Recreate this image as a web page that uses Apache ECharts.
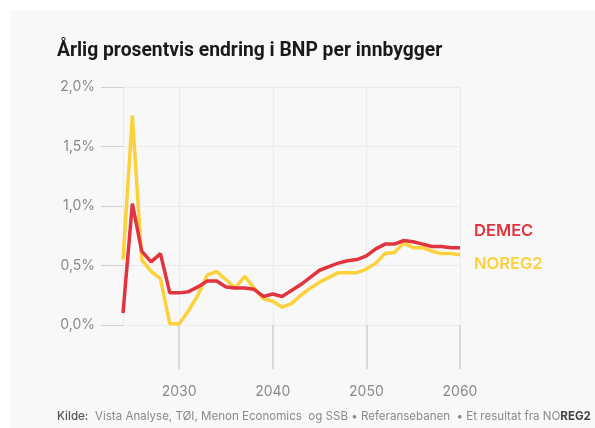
<!DOCTYPE html>
<html>
<head>
<meta charset="utf-8">
<script src="https://cdn.jsdelivr.net/npm/echarts@6/dist/echarts.min.js"></script>
<style>
  html, body { margin: 0; padding: 0; background: #ffffff; }
  #chart { width: 595px; height: 428px; }
</style>
</head>
<body>
<div id="chart"></div>
<script>
// Years shown along the horizontal axis
const years = [];
for (let y = 2024; y <= 2060; y++) years.push(String(y));

// Annual % change in GDP per capita, two model runs
const demec = [0.10, 1.02, 0.62, 0.53, 0.60, 0.27, 0.27, 0.28, 0.32, 0.37,
               0.37, 0.32, 0.31, 0.31, 0.30, 0.24, 0.26, 0.24, 0.29, 0.34,
               0.40, 0.46, 0.49, 0.52, 0.54, 0.55, 0.58, 0.64, 0.68, 0.68,
               0.71, 0.70, 0.68, 0.66, 0.66, 0.65, 0.65];
const noreg2 = [0.55, 1.76, 0.55, 0.45, 0.39, 0.01, 0.01, 0.12, 0.25, 0.42,
                0.45, 0.38, 0.31, 0.41, 0.31, 0.22, 0.20, 0.15, 0.18, 0.25,
                0.31, 0.36, 0.40, 0.44, 0.44, 0.44, 0.47, 0.52, 0.60, 0.61,
                0.69, 0.65, 0.65, 0.62, 0.60, 0.60, 0.59];

const yTicks = [0, 0.5, 1, 1.5, 2];

const RED = '#e2343f';
const YELLOW = '#fdd13c';
const FONT = 'Inter, "Noto Sans", sans-serif';

const chart = echarts.init(document.getElementById('chart'));

chart.setOption({
  backgroundColor: '#ffffff',
  animation: false,
  graphic: [
    {
      type: 'rect', z: -10, silent: true,
      shape: { x: 10, y: 10, width: 600, height: 430 },
      style: { fill: '#f8f8f8' }
    },
    {
      type: 'text', left: 57, top: 42,
      style: {
        text: 'Årlig prosentvis endring i BNP per innbygger',
        font: 'bold 19.3px Roboto, sans-serif',
        fill: '#1a1a1a'
      }
    },
    {
      type: 'text', left: 57, top: 411,
      style: {
        text: '{k|Kilde:}  {t|Vista Analyse, TØI, Menon Economics  og SSB • Referansebanen  • Et resultat fra NO}{b|REG2}',
        rich: {
          k: { fontFamily: FONT, fontSize: 11.55, fill: '#555555', fontWeight: 500 },
          t: { fontFamily: FONT, fontSize: 11.55, fill: '#8a8a8a' },
          b: { fontFamily: FONT, fontSize: 11.55, fill: '#444444', fontWeight: 'bold' }
        }
      }
    }
  ],
  grid: { left: 123, right: 135, top: 87, bottom: 103, containLabel: false },
  xAxis: {
    type: 'category',
    data: years,
    boundaryGap: false,
    offset: 12,
    axisLine: { show: false },
    axisTick: {
      show: true, length: 44,
      interval: (i, v) => Number(v) % 10 === 0,
      lineStyle: { color: '#cfcfcf', width: 1.5 }
    },
    axisLabel: {
      interval: (i, v) => Number(v) % 10 === 0,
      color: '#8a8a8a', fontFamily: FONT, fontSize: 14, margin: 48
    },
    splitLine: {
      show: true,
      interval: (i, v) => i === 0 || Number(v) % 10 === 0,
      lineStyle: { color: '#ebebeb', width: 1 }
    }
  },
  yAxis: {
    type: 'value',
    min: yTicks[0],
    max: yTicks[yTicks.length - 1],
    interval: 0.5,
    axisLine: { show: false },
    axisTick: { show: true, length: 22, lineStyle: { color: '#d0d0d0', width: 1 } },
    axisLabel: {
      color: '#8a8a8a', fontFamily: FONT, fontSize: 14, margin: 28,
      formatter: v => v.toFixed(1).replace('.', ',') + '%'
    },
    splitLine: { lineStyle: { color: '#ebebeb', width: 1 } }
  },
  series: [
    {
      name: 'NOREG2', type: 'line', data: noreg2, showSymbol: false,
      lineStyle: { color: YELLOW, width: 3.5 }, itemStyle: { color: YELLOW },
      endLabel: {
        show: true, formatter: '{a}', color: YELLOW, fontFamily: FONT,
        fontSize: 16.5, fontWeight: 600, distance: 14, offset: [0, 9]
      }
    },
    {
      name: 'DEMEC', type: 'line', data: demec, showSymbol: false,
      lineStyle: { color: RED, width: 3.5 }, itemStyle: { color: RED },
      endLabel: {
        show: true, formatter: '{a}', color: RED, fontFamily: FONT,
        fontSize: 16.5, fontWeight: 600, distance: 14, offset: [0, -17]
      }
    }
  ]
});
</script>
</body>
</html>
